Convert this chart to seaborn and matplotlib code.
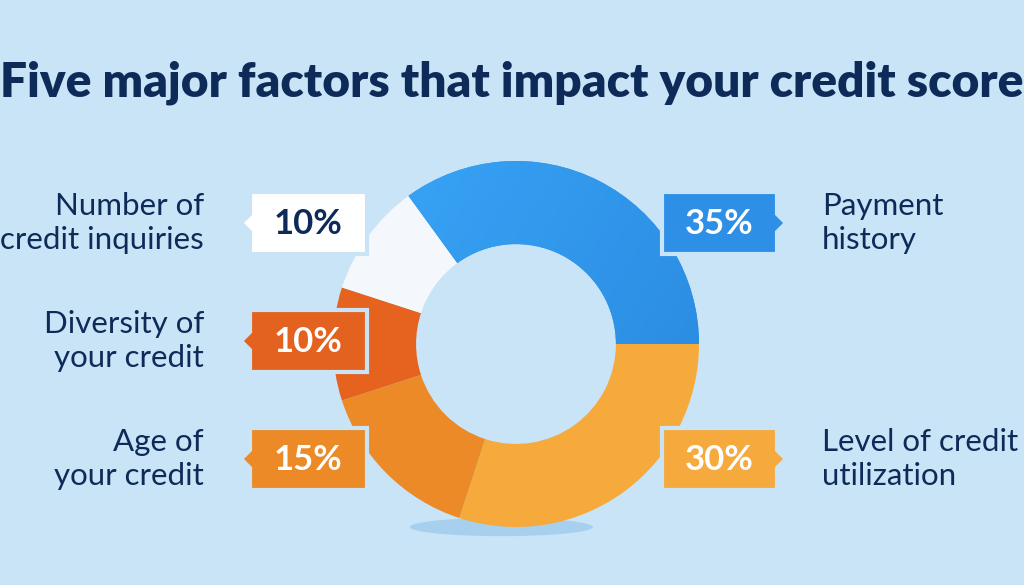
import numpy as np
import matplotlib
matplotlib.use("Agg")
import matplotlib.pyplot as plt
import seaborn as sns
from matplotlib.patches import Polygon, Ellipse
from matplotlib.colors import LinearSegmentedColormap

# ---- data ----
title = "Five major factors that impact your credit score"
factors = ["Payment\nhistory", "Level of credit\nutilization", "Age of\nyour credit",
           "Diversity of\nyour credit", "Number of\ncredit inquiries"]
shares = [35, 30, 15, 10, 10]
pct_labels = [f"{v}%" for v in shares]
colors = ["#2f95eb", "#f6aa3c", "#ec8a27", "#e5631f", "#f4f8fc"]

sns.set_theme(style="white")
plt.rcParams['font.family'] = ['Lato', 'DejaVu Sans']

BG = "#c8e4f6"
NAVY = "#0e2a58"
W, H = 1024, 585
fig = plt.figure(figsize=(W / 100, H / 100), dpi=100, facecolor=BG)

# ---- donut ----
cx, cy, R = 516, 344, 183
ax = fig.add_axes([(cx - R) / W, (H - cy - R) / H, 2 * R / W, 2 * R / H])
ax.set_facecolor("none")
sh = Ellipse((-0.08, -1.0), 1.0, 0.1, color="#7fb6e6", alpha=0.45, zorder=0,
             clip_on=False, linewidth=0)
ax.add_patch(sh)
wedges, _ = ax.pie(shares, colors=colors, startangle=126, counterclock=False,
                   radius=1, wedgeprops=dict(width=0.454, linewidth=0))
for w in wedges:
    w.set_zorder(2)
# soft gradient on the blue slice
blue_cmap = LinearSegmentedColormap.from_list("b", ["#3aa6f8", "#2888de"])
gx, gy = np.meshgrid(np.linspace(-1, 1, 200), np.linspace(1, -1, 200))
im = ax.imshow(gx - 0.6 * gy, extent=[-1, 1, -1, 1], cmap=blue_cmap, zorder=2.5)
im.set_clip_path(wedges[0])
ax.set_xlim(-1, 1)
ax.set_ylim(-1, 1)
ax.set_aspect("equal")
ax.axis("off")

# ---- overlay (pixel coordinates) ----
ov = fig.add_axes([0, 0, 1, 1])
ov.set_xlim(0, W)
ov.set_ylim(H, 0)
ov.set_facecolor("none")
ov.axis("off")

ov.text(512, 83, title, ha="center", va="center", fontsize=34.5, fontweight="heavy", color=NAVY)

box_colors = ["#2d8fe6", "#f6aa3e", "#ec8a28", "#e4621f", "#ffffff"]
text_colors = ["white", "white", "white", "white", NAVY]
sides = ["right", "right", "left", "left", "left"]
centers_y = [223, 459, 459, 341, 223]

for i in range(len(shares)):
    yc = centers_y[i]
    y0, y1 = yc - 31, yc + 31
    if sides[i] == "right":
        x0, x1 = 662, 777
        pts = [(x0, y0), (x1, y0), (x1, yc - 9), (x1 + 9, yc), (x1, yc + 9), (x1, y1), (x0, y1)]
        lx, ha = 822, "left"
    else:
        x0, x1 = 250, 367
        pts = [(x0, y0), (x1, y0), (x1, y1), (x0, y1), (x0, yc + 9), (x0 - 9, yc), (x0, yc - 9)]
        lx, ha = 204, "right"
    ov.add_patch(Polygon(pts, closed=True, facecolor=box_colors[i], edgecolor=BG,
                         linewidth=3, joinstyle="miter"))
    ov.text((x0 + x1) / 2, yc + 1, pct_labels[i], ha="center", va="center",
            fontsize=25, fontweight="bold", color=text_colors[i])
    ov.text(lx, yc, factors[i], ha=ha, va="center", multialignment=ha,
            fontsize=22.5, color=NAVY, linespacing=1.3)

fig.savefig("out.png", dpi=100, facecolor=BG)
